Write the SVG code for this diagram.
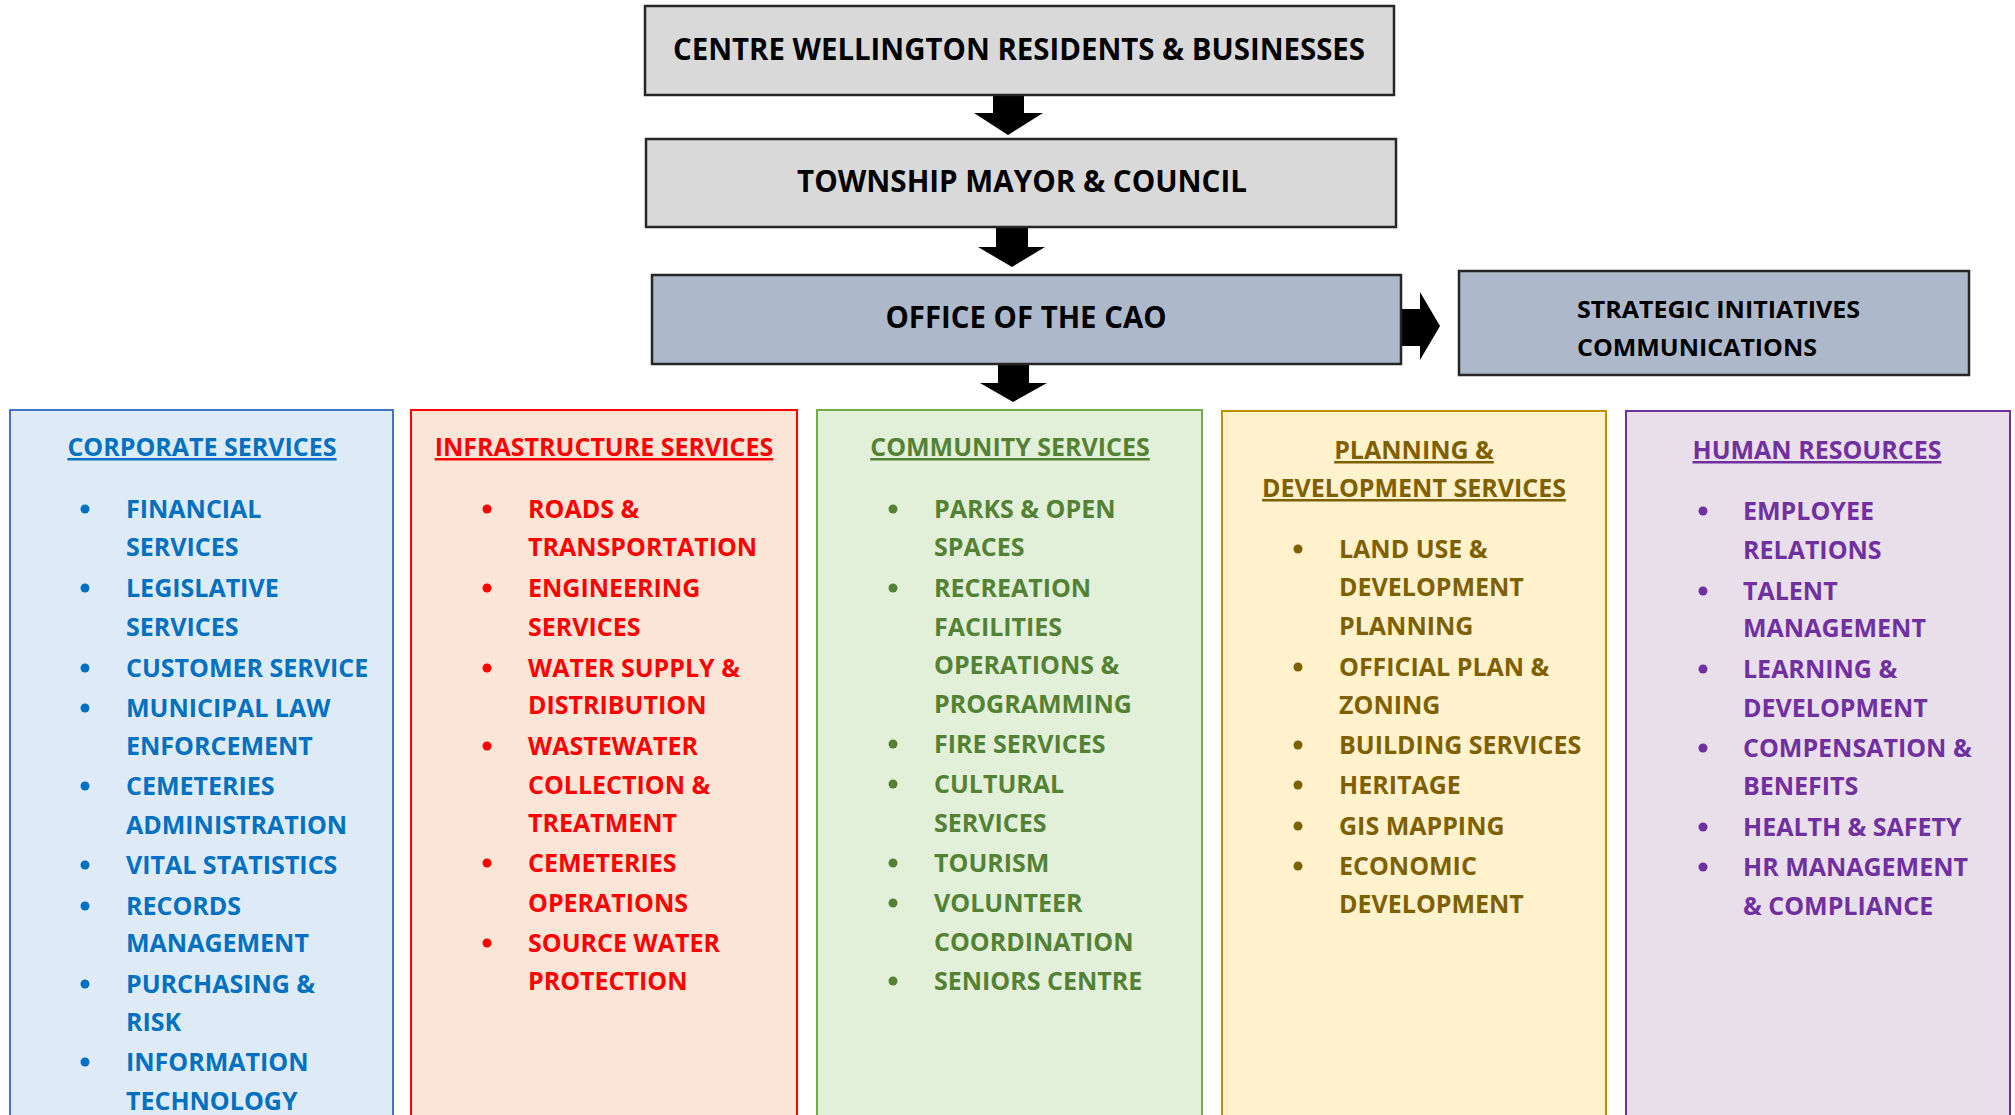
<svg xmlns="http://www.w3.org/2000/svg" width="2015" height="1115" viewBox="0 0 2015 1115">
<style>
.top{font-family:"Open Sans","Liberation Sans",sans-serif;font-weight:700;fill:#000;}
.box{stroke:#262626;stroke-width:2.5;}
.hd{font-family:"Open Sans","Liberation Sans",sans-serif;font-weight:700;font-size:25px;text-decoration:underline;text-anchor:middle;}
.it{font-family:"Open Sans","Liberation Sans",sans-serif;font-weight:700;font-size:25px;}
.c1{fill:#0070c0;} .c2{fill:#ff0000;} .c3{fill:#548235;} .c4{fill:#7f6000;} .c5{fill:#7030a0;}
</style>
<rect width="2015" height="1115" fill="#fff"/>
<g id="connectors" fill="#000">
<polygon points="993,95 1024,95 1024,113 1043,113 1008,135 974,113 993,113"/>
<polygon points="996,227 1028,227 1028,247 1045,247 1012,267 978,247 996,247"/>
<polygon points="998,364 1029,364 1029,383 1047,383 1013,402 980,383 998,383"/>
<polygon points="1401,309 1420,309 1420,292 1440,326 1420,360 1420,346 1401,346"/>
</g>
<g id="residents">
<rect class="box" x="645" y="6" width="749" height="89" fill="#d9d9d9"/>
<text class="top" x="1019" y="60" font-size="30" text-anchor="middle" textLength="692" lengthAdjust="spacingAndGlyphs">CENTRE WELLINGTON RESIDENTS &amp; BUSINESSES</text>
</g>
<g id="council">
<rect class="box" x="646" y="139" width="750" height="88" fill="#d9d9d9"/>
<text class="top" x="1022" y="192" font-size="30" text-anchor="middle" textLength="450" lengthAdjust="spacingAndGlyphs">TOWNSHIP MAYOR &amp; COUNCIL</text>
</g>
<g id="cao">
<rect class="box" x="652" y="275" width="749" height="89" fill="#adb9ca"/>
<text class="top" x="1026" y="328" font-size="30" text-anchor="middle" textLength="281" lengthAdjust="spacingAndGlyphs">OFFICE OF THE CAO</text>
</g>
<g id="strategic">
<rect class="box" x="1459" y="271" width="510" height="104" fill="#adb9ca"/>
<text class="top" x="1577" y="318" font-size="24" textLength="283" lengthAdjust="spacingAndGlyphs">STRATEGIC INITIATIVES</text>
<text class="top" x="1577" y="356" font-size="24" textLength="240" lengthAdjust="spacingAndGlyphs">COMMUNICATIONS</text>
</g>
<g id="corporate">
<rect x="10" y="410" width="383" height="715" fill="#deebf7" stroke="#4472c4" stroke-width="2"/>
<text class="hd c1" x="202" y="456">CORPORATE SERVICES</text>
<g class="c1">
<circle cx="85" cy="509" r="4.5"/><circle cx="85" cy="588" r="4.5"/><circle cx="85" cy="668" r="4.5"/><circle cx="85" cy="708" r="4.5"/><circle cx="85" cy="786" r="4.5"/><circle cx="85" cy="865" r="4.5"/><circle cx="85" cy="906" r="4.5"/><circle cx="85" cy="984" r="4.5"/><circle cx="85" cy="1062" r="4.5"/>
</g>
<g class="it c1">
<text x="126" y="518">FINANCIAL</text><text x="126" y="556">SERVICES</text>
<text x="126" y="597">LEGISLATIVE</text><text x="126" y="636">SERVICES</text>
<text x="126" y="677">CUSTOMER SERVICE</text>
<text x="126" y="717">MUNICIPAL LAW</text><text x="126" y="755">ENFORCEMENT</text>
<text x="126" y="795">CEMETERIES</text><text x="126" y="834">ADMINISTRATION</text>
<text x="126" y="874">VITAL STATISTICS</text>
<text x="126" y="915">RECORDS</text><text x="126" y="952">MANAGEMENT</text>
<text x="126" y="993">PURCHASING &amp;</text><text x="126" y="1031">RISK</text>
<text x="126" y="1071">INFORMATION</text><text x="126" y="1110">TECHNOLOGY</text>
</g>
</g>
<g id="infrastructure">
<rect x="411" y="410" width="386" height="715" fill="#fbe5d6" stroke="#ff0000" stroke-width="2"/>
<text class="hd c2" x="604" y="456">INFRASTRUCTURE SERVICES</text>
<g class="c2">
<circle cx="487" cy="509" r="4.5"/><circle cx="487" cy="588" r="4.5"/><circle cx="487" cy="668" r="4.5"/><circle cx="487" cy="746" r="4.5"/><circle cx="487" cy="863" r="4.5"/><circle cx="487" cy="943" r="4.5"/>
</g>
<g class="it c2">
<text x="528" y="518">ROADS &amp;</text><text x="528" y="556">TRANSPORTATION</text>
<text x="528" y="597">ENGINEERING</text><text x="528" y="636">SERVICES</text>
<text x="528" y="677">WATER SUPPLY &amp;</text><text x="528" y="714">DISTRIBUTION</text>
<text x="528" y="755">WASTEWATER</text><text x="528" y="794">COLLECTION &amp;</text><text x="528" y="832">TREATMENT</text>
<text x="528" y="872">CEMETERIES</text><text x="528" y="912">OPERATIONS</text>
<text x="528" y="952">SOURCE WATER</text><text x="528" y="990">PROTECTION</text>
</g>
</g>
<g id="community">
<rect x="817" y="410" width="385" height="715" fill="#e2f0d9" stroke="#70ad47" stroke-width="2"/>
<text class="hd c3" x="1010" y="456">COMMUNITY SERVICES</text>
<g class="c3">
<circle cx="893" cy="509" r="4.5"/><circle cx="893" cy="588" r="4.5"/><circle cx="893" cy="744" r="4.5"/><circle cx="893" cy="784" r="4.5"/><circle cx="893" cy="863" r="4.5"/><circle cx="893" cy="903" r="4.5"/><circle cx="893" cy="981" r="4.5"/>
</g>
<g class="it c3">
<text x="934" y="518">PARKS &amp; OPEN</text><text x="934" y="556">SPACES</text>
<text x="934" y="597">RECREATION</text><text x="934" y="636">FACILITIES</text><text x="934" y="674">OPERATIONS &amp;</text><text x="934" y="713">PROGRAMMING</text>
<text x="934" y="753">FIRE SERVICES</text>
<text x="934" y="793">CULTURAL</text><text x="934" y="832">SERVICES</text>
<text x="934" y="872">TOURISM</text>
<text x="934" y="912">VOLUNTEER</text><text x="934" y="951">COORDINATION</text>
<text x="934" y="990">SENIORS CENTRE</text>
</g>
</g>
<g id="planning">
<rect x="1222" y="411" width="384" height="715" fill="#fff2cc" stroke="#bf9000" stroke-width="2"/>
<text class="hd c4" x="1414" y="459">PLANNING &amp;</text>
<text class="hd c4" x="1414" y="497">DEVELOPMENT SERVICES</text>
<g class="c4">
<circle cx="1298" cy="549" r="4.5"/><circle cx="1298" cy="667" r="4.5"/><circle cx="1298" cy="745" r="4.5"/><circle cx="1298" cy="785" r="4.5"/><circle cx="1298" cy="826" r="4.5"/><circle cx="1298" cy="866" r="4.5"/>
</g>
<g class="it c4">
<text x="1339" y="558">LAND USE &amp;</text><text x="1339" y="596">DEVELOPMENT</text><text x="1339" y="635">PLANNING</text>
<text x="1339" y="676">OFFICIAL PLAN &amp;</text><text x="1339" y="714">ZONING</text>
<text x="1339" y="754">BUILDING SERVICES</text>
<text x="1339" y="794">HERITAGE</text>
<text x="1339" y="835">GIS MAPPING</text>
<text x="1339" y="875">ECONOMIC</text><text x="1339" y="913">DEVELOPMENT</text>
</g>
</g>
<g id="hr">
<rect x="1626" y="411" width="384" height="715" fill="#e9dfeb" stroke="#7030a0" stroke-width="2"/>
<text class="hd c5" x="1817" y="459">HUMAN RESOURCES</text>
<g class="c5">
<circle cx="1703" cy="511" r="4.5"/><circle cx="1703" cy="591" r="4.5"/><circle cx="1703" cy="669" r="4.5"/><circle cx="1703" cy="748" r="4.5"/><circle cx="1703" cy="827" r="4.5"/><circle cx="1703" cy="867" r="4.5"/>
</g>
<g class="it c5">
<text x="1743" y="520">EMPLOYEE</text><text x="1743" y="559">RELATIONS</text>
<text x="1743" y="600">TALENT</text><text x="1743" y="637">MANAGEMENT</text>
<text x="1743" y="678">LEARNING &amp;</text><text x="1743" y="717">DEVELOPMENT</text>
<text x="1743" y="757">COMPENSATION &amp;</text><text x="1743" y="795">BENEFITS</text>
<text x="1743" y="836">HEALTH &amp; SAFETY</text>
<text x="1743" y="876">HR MANAGEMENT</text><text x="1743" y="915">&amp; COMPLIANCE</text>
</g>
</g>
</svg>
